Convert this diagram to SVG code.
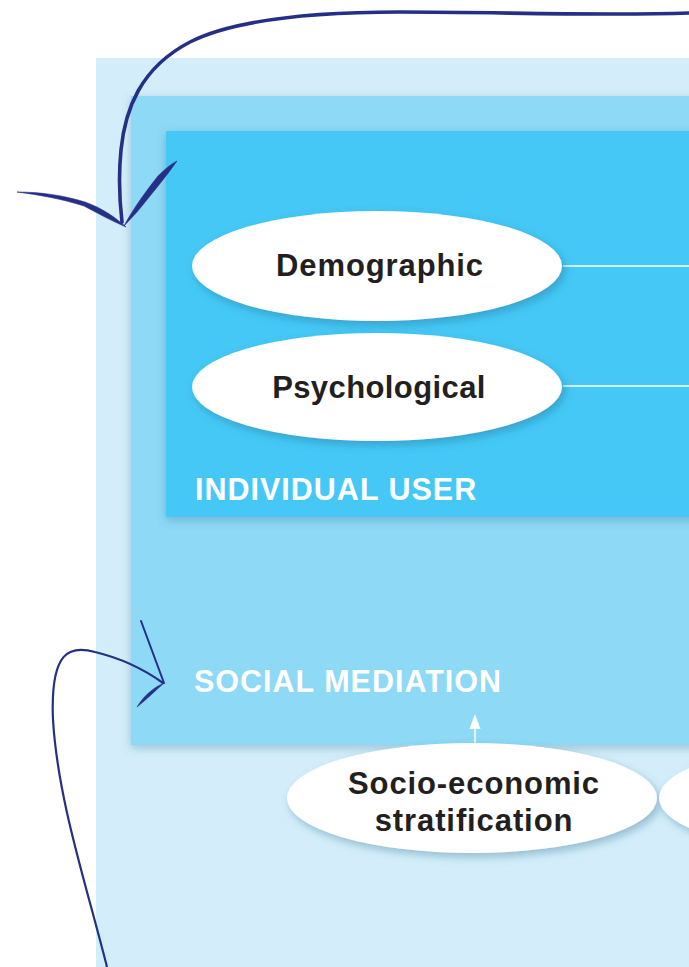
<svg xmlns="http://www.w3.org/2000/svg" width="689" height="967" viewBox="0 0 689 967">
<style>
.lbl{font-family:"Liberation Sans",Arial,sans-serif;font-weight:bold;font-size:31px;letter-spacing:0.9px;fill:#231f20;text-anchor:middle}
.ttl{font-family:"Liberation Sans",Arial,sans-serif;font-weight:bold;font-size:30.5px;letter-spacing:1px;fill:#ffffff}
.ell{fill:#ffffff;filter:url(#sh)}
.pen{fill:none;stroke:#262f86;stroke-linecap:round}
.ink{fill:#262f86;stroke:#262f86;stroke-width:0.6;stroke-linejoin:round}
.wl{stroke:#ffffff;stroke-width:1.5;fill:none}
</style>
<defs>
<filter id="sh" x="-20%" y="-30%" width="150%" height="170%">
<feDropShadow dx="3" dy="4" stdDeviation="4" flood-color="#1a5a80" flood-opacity="0.35"/>
</filter>
<filter id="rsh" x="-10%" y="-10%" width="130%" height="130%">
<feDropShadow dx="0" dy="3" stdDeviation="5" flood-color="#1a5a80" flood-opacity="0.3"/>
</filter>
</defs>
<rect x="0" y="0" width="689" height="967" fill="#ffffff"/>
<g id="outer"><rect x="96" y="58" width="600" height="920" fill="#d3eefa"/></g>
<g id="social-mediation">
<rect x="131" y="96" width="570" height="649" fill="#8ed9f6" filter="url(#rsh)"/>
<text class="ttl" x="194" y="692">SOCIAL MEDIATION</text>
</g>
<g id="individual-user">
<rect x="166" y="131" width="540" height="386" fill="#44c8f5" filter="url(#rsh)"/>
<text class="ttl" x="195" y="500">INDIVIDUAL USER</text>
</g>
<g id="connectors">
<line class="wl" x1="563" y1="266" x2="689" y2="266"/>
<line class="wl" x1="563" y1="386" x2="689" y2="386"/>
<line class="wl" x1="475" y1="744" x2="475" y2="728"/>
<polygon points="475,714 469.5,729 480.5,729" fill="#ffffff"/>
<path class="pen" stroke-width="3.6" d="M689,13 C600,16 500,12 400,12 C300,12 230,22 190,42 C140,68 125,110 121,150 C118,180 120,205 122,222"/>
<path class="ink" d="M17,192 C40,192 62,195 85,202 C102,208 115,217 126,227 C112,221 99,214 84,206 C62,199 40,195 17,192 Z"/>
<path class="ink" d="M177,161 C165,178 150,196 137,212 L124,226 C133,209 146,191 158,176 C165,169 171,164 177,161 Z"/>
<path class="pen" stroke-width="2.2" d="M107,967 C85,880 58,800 53,720 C50,650 70,645 95,652 C120,658 145,670 163,683"/>
<path class="pen" stroke-width="2" d="M141,621 L164,683"/>
<path class="ink" d="M164,683 C155,687 145,694 137,707 C147,699 155,691 164,683 Z"/>
</g>
<g id="demographic">
<ellipse class="ell" cx="377" cy="266" rx="185" ry="55"/>
<text class="lbl" x="380" y="276">Demographic</text>
</g>
<g id="psychological">
<ellipse class="ell" cx="377" cy="387" rx="185" ry="54"/>
<text class="lbl" x="379" y="398" style="letter-spacing:0.4px">Psychological</text>
</g>
<g id="socio-economic">
<ellipse class="ell" cx="472" cy="798" rx="185" ry="55"/>
<text class="lbl" x="474" y="794">Socio-economic</text>
<text class="lbl" x="474" y="831">stratification</text>
</g>
<g id="next-node">
<ellipse class="ell" cx="844" cy="798" rx="185" ry="55"/>
</g>
</svg>
